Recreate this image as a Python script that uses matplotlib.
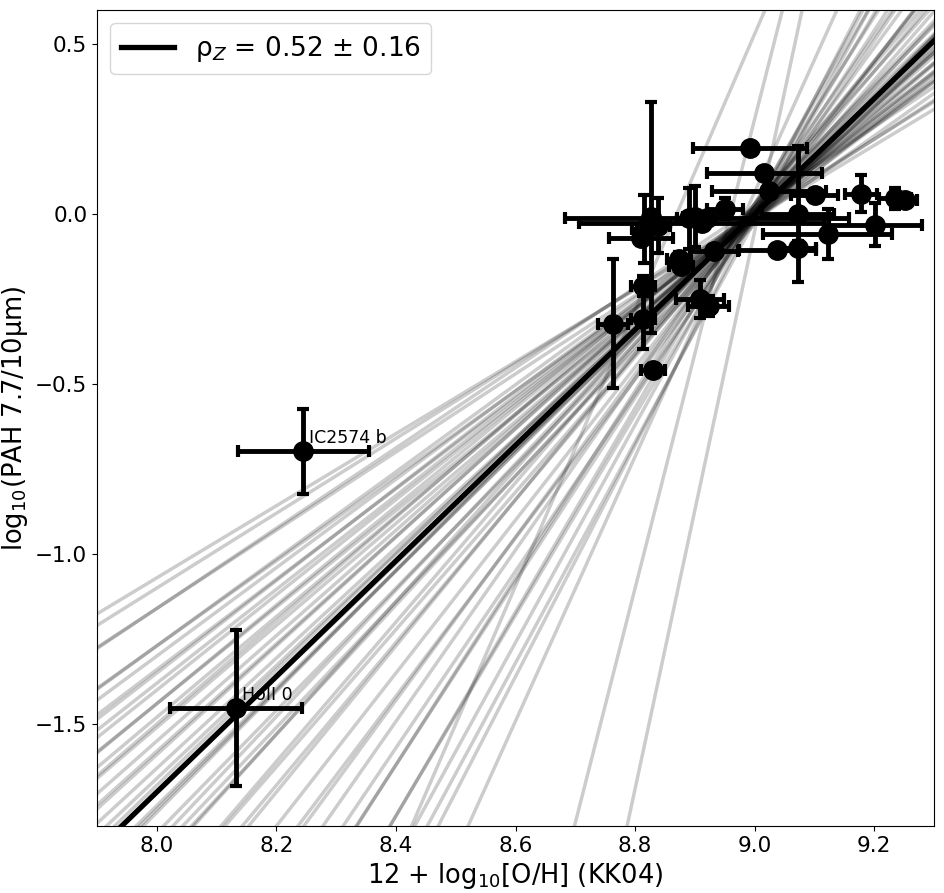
import numpy as np
import matplotlib
matplotlib.use('Agg')
import matplotlib.pyplot as plt

# galaxy regions: metallicity (KK04) and PAH 7.7/10 micron ratio
oh = [8.992, 9.016, 9.024, 9.178, 9.235, 9.252, 9.202, 8.920, 9.122, 9.072,
      9.038, 8.950, 8.890, 8.900, 8.827, 8.932, 8.873, 8.876, 8.810, 8.813,
      8.908, 8.923, 8.813, 8.763, 8.830, 8.245, 8.132, 8.911, 9.072, 9.100,
      8.839, 8.815]
oh_err = [0.095, 0.096, 0.095, 0.027, 0.027, 0.020, 0.078, 0.237, 0.108, 0.030,
          0.065, 0.030, 0.020, 0.020, 0.010, 0.040, 0.020, 0.020, 0.054, 0.020,
          0.040, 0.034, 0.020, 0.025, 0.020, 0.110, 0.110, 0.205, 0.060, 0.040,
          0.020, 0.020]
pah = [0.193, 0.122, 0.069, 0.060, 0.046, 0.040, -0.031, -0.013, -0.058, -0.099,
       -0.105, 0.016, -0.013, -0.008, -0.010, -0.108, -0.131, -0.152, -0.072, -0.211,
       -0.249, -0.270, -0.308, -0.323, -0.459, -0.698, -1.453, -0.025, 0.000, 0.055,
       -0.034, -0.043]
pah_err = [0.010, 0.010, 0.010, 0.055, 0.030, 0.010, 0.062, 0.010, 0.074, 0.020,
           0.010, 0.030, 0.090, 0.090, 0.340, 0.015, 0.020, 0.020, 0.020, 0.030,
           0.056, 0.030, 0.090, 0.190, 0.010, 0.125, 0.230, 0.010, 0.200, 0.020,
           0.080, 0.100]

labels = {'IC2574 b': (8.245, -0.698), 'HoII 0': (8.132, -1.453)}

# best fit and posterior samples, y = y9 + slope * (x - 9.0)
fit_slope = 1.70
fit_y9 = 0.0
sample_slope = [1.06, 1.10, 1.15, 1.18, 1.25, 1.28, 1.33, 1.36, 1.38, 1.42,
                1.48, 1.50, 1.55, 1.60, 1.66, 1.70, 1.73, 1.78, 1.80, 1.86,
                1.95, 2.02, 2.15, 2.25, 2.33, 2.52, 2.70, 2.75, 2.95, 3.20,
                3.25, 3.40, 3.89, 4.06, 6.90, 8.20, 1.68, 1.75, 1.62, 1.52,
                1.40, 1.30, 1.90, 2.10, 2.40, 2.60, 3.00, 2.05, 1.85, 1.58,
                1.45]
sample_y9 = [-0.01, 0.00, -0.01, 0.02, -0.02, 0.01, -0.01, 0.01, 0.00, -0.02,
             0.00, -0.01, 0.00, 0.01, 0.00, 0.02, -0.01, 0.02, -0.02, 0.01,
             0.03, -0.01, 0.02, 0.00, -0.02, 0.02, 0.00, 0.03, 0.00, 0.02,
             -0.02, 0.00, 0.065, 0.53, 0.28, -0.05, -0.02, 0.00, -0.01, 0.02,
             0.00, 0.00, -0.01, 0.00, 0.01, -0.01, 0.03, 0.03, -0.03, 0.00,
             0.01]

fig = plt.figure(figsize=(9.44, 8.93), dpi=100)
ax = fig.add_axes([0.1028, 0.075, 0.8867, 0.9138])

xx = np.array([7.9, 9.3])
for s, b in zip(sample_slope, sample_y9):
    ax.plot(xx, b + s * (xx - 9.0), '-', color='k', alpha=0.2, lw=2.5, zorder=1)

ax.plot(xx, fit_y9 + fit_slope * (xx - 9.0), '-', color='k', lw=3.8, zorder=2,
        label='ρ$_Z$ = 0.52 ± 0.16')

ax.errorbar(oh, pah, xerr=oh_err, yerr=pah_err, fmt='o', color='k', ms=14,
            elinewidth=3.5, capsize=4.5, capthick=3, zorder=3)

for name, (x, y) in labels.items():
    ax.text(x + 0.01, y + 0.025, name, fontsize=12.5, zorder=4)

ax.set_xlim(7.9, 9.3)
ax.set_ylim(-1.8, 0.6)
ax.set_xticks([8.0, 8.2, 8.4, 8.6, 8.8, 9.0, 9.2])
ax.set_yticks([-1.5, -1.0, -0.5, 0.0, 0.5])
ax.tick_params(labelsize=15.5)
ax.set_xlabel('12 + log$_{10}$[O/H] (KK04)', fontsize=18.5)
ax.set_ylabel('log$_{10}$(PAH 7.7/10μm)', fontsize=18.5)
ax.legend(loc='upper left', fontsize=19)

fig.savefig('out.png', dpi=100)
